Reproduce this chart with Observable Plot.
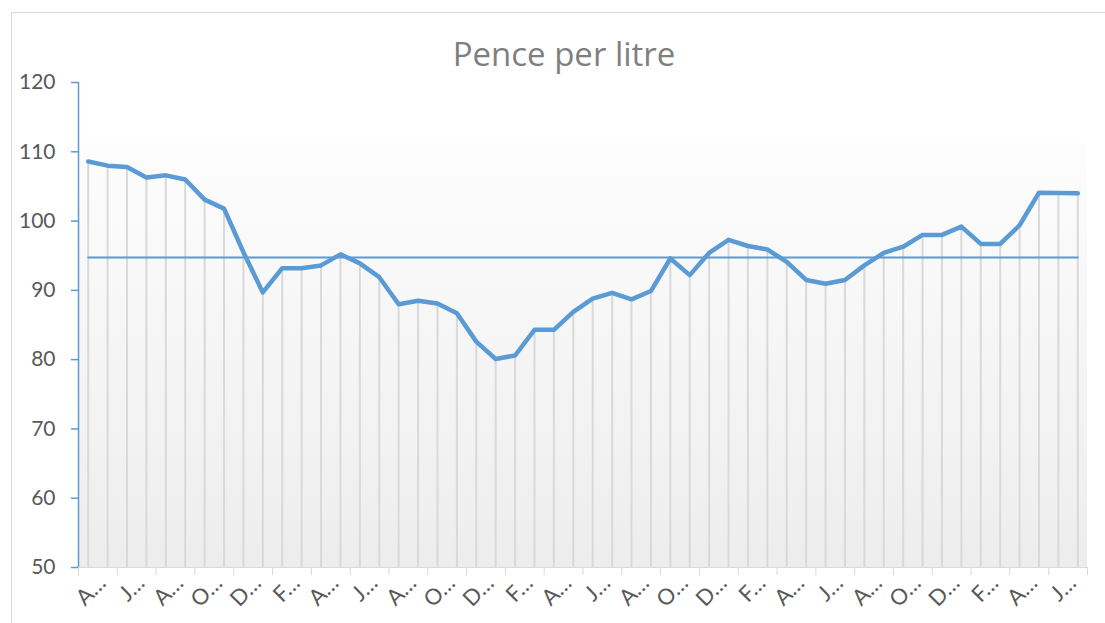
<!DOCTYPE html>
<html>
<head>
<meta charset="utf-8">
<script src="https://cdn.jsdelivr.net/npm/d3@7"></script>
<script src="https://cdn.jsdelivr.net/npm/@observablehq/plot@0.6"></script>
<style>
  body { margin: 0; background: #fff; }
  #chart { position: relative; width: 1105px; height: 623px; overflow: hidden; font-family: Lato, "Open Sans", sans-serif; }
  #border { position: absolute; left: 11px; top: 12px; width: 1100px; height: 620px; border: 1px solid #d9d9d9; box-sizing: border-box; pointer-events: none; }
  #title { box-sizing: border-box; height: 72px; padding-top: 37px; padding-left: 23px; width: 1105px; text-align: center; font-family: "Open Sans", Lato, sans-serif; font-size: 33px; line-height: 1; color: #7f7f7f; }
  svg { display: block; }
</style>
</head>
<body>
<div id="chart">
  <div id="border"></div>
  <div id="title">Pence per litre</div>
</div>
<script>
const months = [
  "Apr","May","Jun","Jul","Aug","Sep","Oct","Nov","Dec","Jan","Feb","Mar",
  "Apr","May","Jun","Jul","Aug","Sep","Oct","Nov","Dec","Jan","Feb","Mar",
  "Apr","May","Jun","Jul","Aug","Sep","Oct","Nov","Dec","Jan","Feb","Mar",
  "Apr","May","Jun","Jul","Aug","Sep","Oct","Nov","Dec","Jan","Feb","Mar",
  "Apr","May","Jun","Jul"
];
const price = [
  108.6, 108.0, 107.8, 106.3, 106.6, 106.0, 103.1, 101.8, 95.5, 89.7,
  93.2, 93.2, 93.6, 95.2, 93.9, 91.9, 88.0, 88.5, 88.1, 86.7,
  82.6, 80.1, 80.6, 84.3, 84.3, 86.9, 88.8, 89.65, 88.7, 89.9,
  94.6, 92.2, 95.4, 97.3, 96.4, 95.9, 94.1, 91.5, 90.95, 91.5,
  93.6, 95.4, 96.3, 98.0, 98.0, 99.2, 96.7, 96.7, 99.4, 104.1,
  104.05, 104.0
];
const shadeTop = [111.2];
const yTicks = [50, 60, 70, 80, 90, 100, 110, 120];

const data = price.map((v, i) => ({ i, v, m: months[i] }));
const avg = d3.mean(price);
const labelIdx = d3.range(0, months.length, 2);
const tickIdx = d3.range(-0.5, months.length, 2);
const xDom = [-0.5, months.length - 0.5];
const yDom = [yTicks[0], yTicks[yTicks.length - 1]];

const blue = "#5b9bd5";
const grid = "#d9d9d9";
const textCol = "#595959";

const plot = Plot.plot({
  width: 1105,
  height: 551,
  marginLeft: 78,
  marginRight: 18,
  marginTop: 10,
  marginBottom: 56,
  style: { fontFamily: 'Lato, "Open Sans", sans-serif', fontSize: "21px", color: textCol, background: "transparent", overflow: "visible" },
  x: { domain: xDom, axis: null, label: null },
  y: { domain: yDom, axis: null, label: null },
  marks: [
    Plot.rect(shadeTop, { x1: xDom[0], x2: xDom[1], y1: yDom[0], y2: d => d, fill: "url(#shade)" }),
    Plot.ruleX(data, { x: "i", y1: yDom[0], y2: "v", stroke: grid, strokeWidth: 2 }),
    Plot.ruleY([yDom[0]], { stroke: grid, strokeWidth: 1 }),
    Plot.axisX({ ticks: tickIdx, tickSize: 8, tickFormat: () => "", stroke: grid, label: null }),
    Plot.axisX({ ticks: labelIdx, tickSize: 0, tickPadding: 0, tickRotate: -45, textAnchor: "end", label: null,
                 tickFormat: i => months[i][0] + "…", dx: 14, dy: 12, fill: textCol, fontSize: 22 }),
    Plot.axisY({ ticks: yTicks, tickSize: 7, tickPadding: 16, stroke: blue, strokeWidth: 1.5, fill: textCol, fontSize: 21, label: null }),
    Plot.ruleX([xDom[0]], { y1: yDom[0], y2: yDom[1], stroke: blue, strokeWidth: 1.5 }),
    Plot.line(data, { x: "i", y: () => avg, stroke: blue, strokeWidth: 2 }),
    Plot.line(data, { x: "i", y: "v", stroke: blue, strokeWidth: 4.5, strokeLinejoin: "round", strokeLinecap: "round" })
  ]
});

const svg = d3.select(plot);
const defs = svg.insert("defs", ":first-child");
const g = defs.append("linearGradient").attr("id", "shade").attr("x1", 0).attr("y1", 0).attr("x2", 0).attr("y2", 1);
g.append("stop").attr("offset", 0).attr("stop-color", "#fdfdfd");
g.append("stop").attr("offset", 1).attr("stop-color", "#ededed");

document.getElementById("chart").appendChild(plot);
</script>
</body>
</html>
